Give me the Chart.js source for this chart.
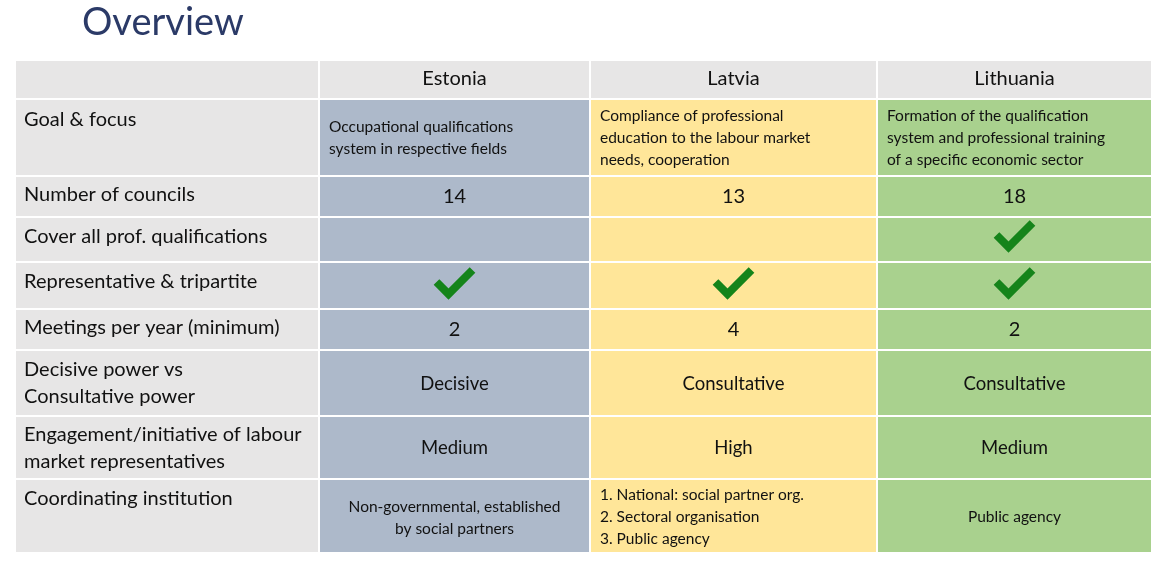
<!DOCTYPE html>
<html>
<head>
<meta charset="utf-8">
<script src="https://cdn.jsdelivr.net/npm/chart.js@4/dist/chart.umd.min.js"></script>
<style>
  html, body { margin: 0; padding: 0; background: #fff; }
  #wrap { width: 1168px; height: 567px; }
</style>
</head>
<body>
<div id="wrap"><canvas id="tableChart"></canvas></div>
<script>
// data
const countries = ['Estonia', 'Latvia', 'Lithuania'];
const rowLabels = [
  ['Goal & focus'],
  ['Number of councils'],
  ['Cover all prof. qualifications'],
  ['Representative & tripartite'],
  ['Meetings per year (minimum)'],
  ['Decisive power vs', 'Consultative power'],
  ['Engagement/initiative of labour', 'market representatives'],
  ['Coordinating institution']
];
const goalFocus = [
  ['Occupational qualifications', 'system in respective fields'],
  ['Compliance of professional', 'education to the labour market', 'needs, cooperation'],
  ['Formation of the qualification', 'system and professional training', 'of a specific economic sector']
];
const councilCounts = [14, 13, 18];
const coverAll = [false, false, true];
const tripartite = [true, true, true];
const meetingsPerYear = [2, 4, 2];
const powerType = ['Decisive', 'Consultative', 'Consultative'];
const engagement = ['Medium', 'High', 'Medium'];
const coordinating = [
  ['Non-governmental, established', 'by social partners'],
  ['1. National: social partner org.', '2. Sectoral organisation', '3. Public agency'],
  ['Public agency']
];

// layout (page coordinates)
const colEdges = [15, 319, 590, 877, 1152];
const rowEdges = [60, 99, 176, 217, 262, 309, 350, 416, 479, 553];
const colColors = ['#adb9ca', '#ffe699', '#a9d18e'];
const FONT = 'Lato, "Open Sans", sans-serif';

const tablePlugin = {
  id: 'tablePlugin',
  afterDraw(chart) {
    const ctx = chart.ctx, xs = chart.scales.x, ys = chart.scales.y;
    const X = v => xs.getPixelForValue(v), Y = v => ys.getPixelForValue(v);
    ctx.save();
    // title
    ctx.fillStyle = '#2b3a67';
    ctx.font = '38px ' + FONT;
    ctx.textBaseline = 'middle';
    ctx.fillText('Overview', X(82), Y(23));

    // cells
    for (let r = 0; r < rowEdges.length - 1; r++) {
      for (let c = 0; c < colEdges.length - 1; c++) {
        let fill = (r === 0 || c === 0) ? '#e7e6e6' : colColors[c - 1];
        const x0 = X(colEdges[c]) + 1, x1 = X(colEdges[c + 1]) - 1;
        const y0 = Y(rowEdges[r]) + 1, y1 = Y(rowEdges[r + 1]) - 1;
        ctx.fillStyle = fill;
        ctx.fillRect(x0, y0, x1 - x0, y1 - y0);
      }
    }
    const cx = c => (X(colEdges[c]) + X(colEdges[c + 1])) / 2;
    const txt = (s, x, y, size, align) => {
      ctx.font = size + 'px ' + FONT;
      ctx.textAlign = align || 'center';
      ctx.fillStyle = '#111';
      ctx.fillText(String(s), x, y);
    };
    const lines = (arr, x, yStart, step, size, align) =>
      arr.forEach((s, i) => txt(s, x, Y(yStart + i * step), size, align));
    const check = (x, y) => {
      ctx.strokeStyle = '#15841a';
      ctx.lineWidth = 8;
      ctx.lineCap = 'butt';
      ctx.lineJoin = 'miter';
      ctx.beginPath();
      ctx.moveTo(x - 18, y - 2);
      ctx.lineTo(x - 6, y + 10);
      ctx.lineTo(x + 18, y - 14);
      ctx.stroke();
    };

    // header
    countries.forEach((n, i) => txt(n, cx(i + 1), Y(79), 20));
    // row labels
    const labelY = [120, 195, 237, 282, 328, 370, 435, 499];
    rowLabels.forEach((l, i) => lines(l, X(24), labelY[i], 27, 20, 'left'));

    const goalStart = [127, 116, 116];
    const goalX = [329, 600, 887];
    for (let i = 0; i < 3; i++) {
      const c = i + 1, x = cx(c);
      lines(goalFocus[i], X(goalX[i]), goalStart[i], 22, 15.5, 'left');
      txt(councilCounts[i], x, Y(197), 20);
      if (coverAll[i]) check(x, Y(237));
      if (tripartite[i]) check(x, Y(284));
      txt(meetingsPerYear[i], x, Y(330), 20);
      txt(powerType[i], x, Y(384), 18.5);
      txt(engagement[i], x, Y(448), 18.5);
    }
    lines(coordinating[0], cx(1), 507, 22, 15.5, 'center');
    lines(coordinating[1], X(600), 495, 22, 15.5, 'left');
    lines(coordinating[2], cx(3), 517, 22, 15.5, 'center');
    ctx.restore();
  }
};

new Chart(document.getElementById('tableChart'), {
  type: 'scatter',
  data: { datasets: [{ data: [], pointRadius: 0 }] },
  options: {
    responsive: true,
    maintainAspectRatio: false,
    animation: false,
    layout: { padding: 0 },
    plugins: { legend: { display: false }, tooltip: { enabled: false } },
    scales: {
      x: { type: 'linear', min: 0, max: 1168, display: false },
      y: { type: 'linear', min: 0, max: 567, reverse: true, display: false }
    }
  },
  plugins: [tablePlugin]
});
</script>
</body>
</html>
